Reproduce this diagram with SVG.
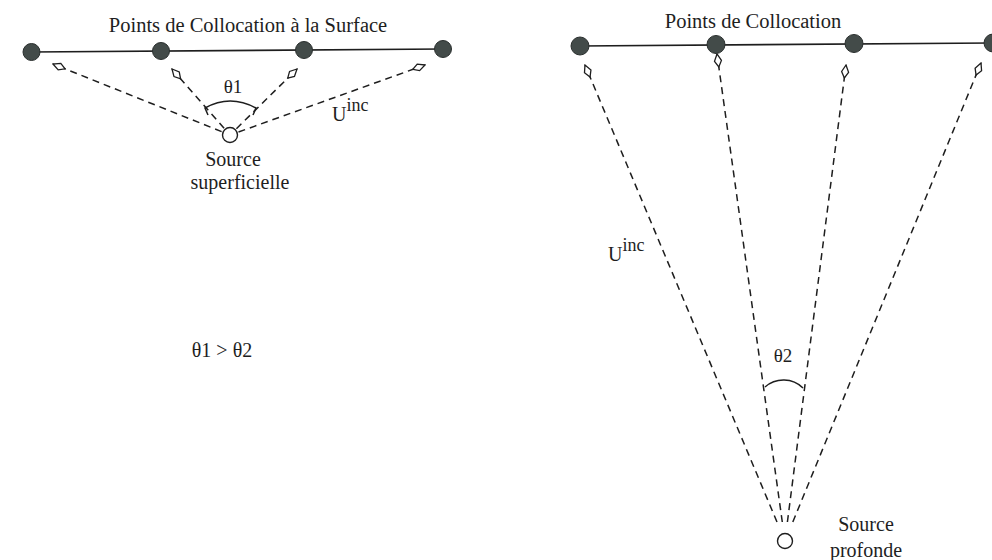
<svg xmlns="http://www.w3.org/2000/svg" width="992" height="560" viewBox="0 0 992 560">
<style>
text{font-family:"Liberation Serif","Times New Roman",serif;fill:#1e1e1e;font-size:20px}
.mid{text-anchor:middle}
.pt{fill:#434b49;stroke:#2a2f2e;stroke-width:1}
.src{fill:#fff;stroke:#1e1e1e;stroke-width:1.4}
.surf{stroke:#1e1e1e;stroke-width:1.6;fill:none}
.ray{stroke:#1e1e1e;stroke-width:1.5;stroke-dasharray:7 5;fill:none;marker-end:url(#kite)}
.arc{stroke:#1e1e1e;stroke-width:1.5;fill:none}
</style>
<defs>
<marker id="kite" viewBox="-15 -5 16 10" refX="0" refY="0" markerWidth="16" markerHeight="10" markerUnits="userSpaceOnUse" orient="auto">
<path d="M0,0 L-7,-3.5 L-13,0 L-7,3.5 Z" fill="#fff" stroke="#1e1e1e" stroke-width="1.3"/>
</marker>
</defs>
<rect width="992" height="560" fill="#fff"/>

<g id="connectors">
<line class="surf" x1="31" y1="52" x2="443" y2="49"/>
<line class="surf" x1="580" y1="46" x2="992" y2="43"/>
<line class="ray" x1="221.6" y1="131.6" x2="53" y2="64"/>
<line class="ray" x1="224.1" y1="128.2" x2="172" y2="69"/>
<line class="ray" x1="236.4" y1="128.7" x2="297" y2="69"/>
<line class="ray" x1="238.5" y1="132" x2="425" y2="65"/>
<line class="ray" x1="777" y1="522" x2="585" y2="65"/>
<line class="ray" x1="782.3" y1="522" x2="717" y2="54"/>
<line class="ray" x1="787.4" y1="522" x2="846" y2="65"/>
<line class="ray" x1="792.8" y1="522" x2="981" y2="63"/>
</g>

<g id="surface-points">
<circle class="pt" cx="31.5" cy="52" r="8.5"/>
<circle class="pt" cx="161" cy="51" r="8.5"/>
<circle class="pt" cx="304" cy="50" r="8.5"/>
<circle class="pt" cx="443" cy="49" r="8.5"/>
</g>
<g id="deep-points">
<circle class="pt" cx="580" cy="46" r="9"/>
<circle class="pt" cx="716" cy="44.5" r="9"/>
<circle class="pt" cx="854" cy="43.5" r="9"/>
<circle class="pt" cx="993" cy="43" r="9"/>
</g>

<g id="source-superficielle">
<circle class="src" cx="230" cy="135" r="7.5"/>
<text class="mid" x="233" y="166">Source</text>
<text class="mid" x="240" y="189">superficielle</text>
</g>
<g id="source-profonde">
<circle class="src" cx="785" cy="541" r="7.5"/>
<text class="mid" x="866" y="531">Source</text>
<text class="mid" x="866" y="557">profonde</text>
</g>

<g id="titles">
<text class="mid" x="248" y="32" style="font-size:20.5px">Points de Collocation à la Surface</text>
<text class="mid" x="753" y="28" style="font-size:20.5px">Points de Collocation</text>
</g>

<g id="angle-theta1">
<path class="arc" d="M208,115 L205,108 Q230,94 256,108 L253,115"/>
<text class="mid" x="233" y="93" style="font-size:19px">θ1</text>
</g>
<g id="angle-theta2">
<path class="arc" d="M765,387 A28,28 0 0,1 803,388"/>
<text class="mid" x="783" y="362" style="font-size:19px">θ2</text>
</g>

<g id="labels">
<text x="332" y="121">U<tspan dy="-10" style="font-size:18px">inc</tspan></text>
<text x="608" y="261">U<tspan dy="-10" style="font-size:18px">inc</tspan></text>
<text class="mid" x="222" y="357">θ1 &gt; θ2</text>
</g>
</svg>
